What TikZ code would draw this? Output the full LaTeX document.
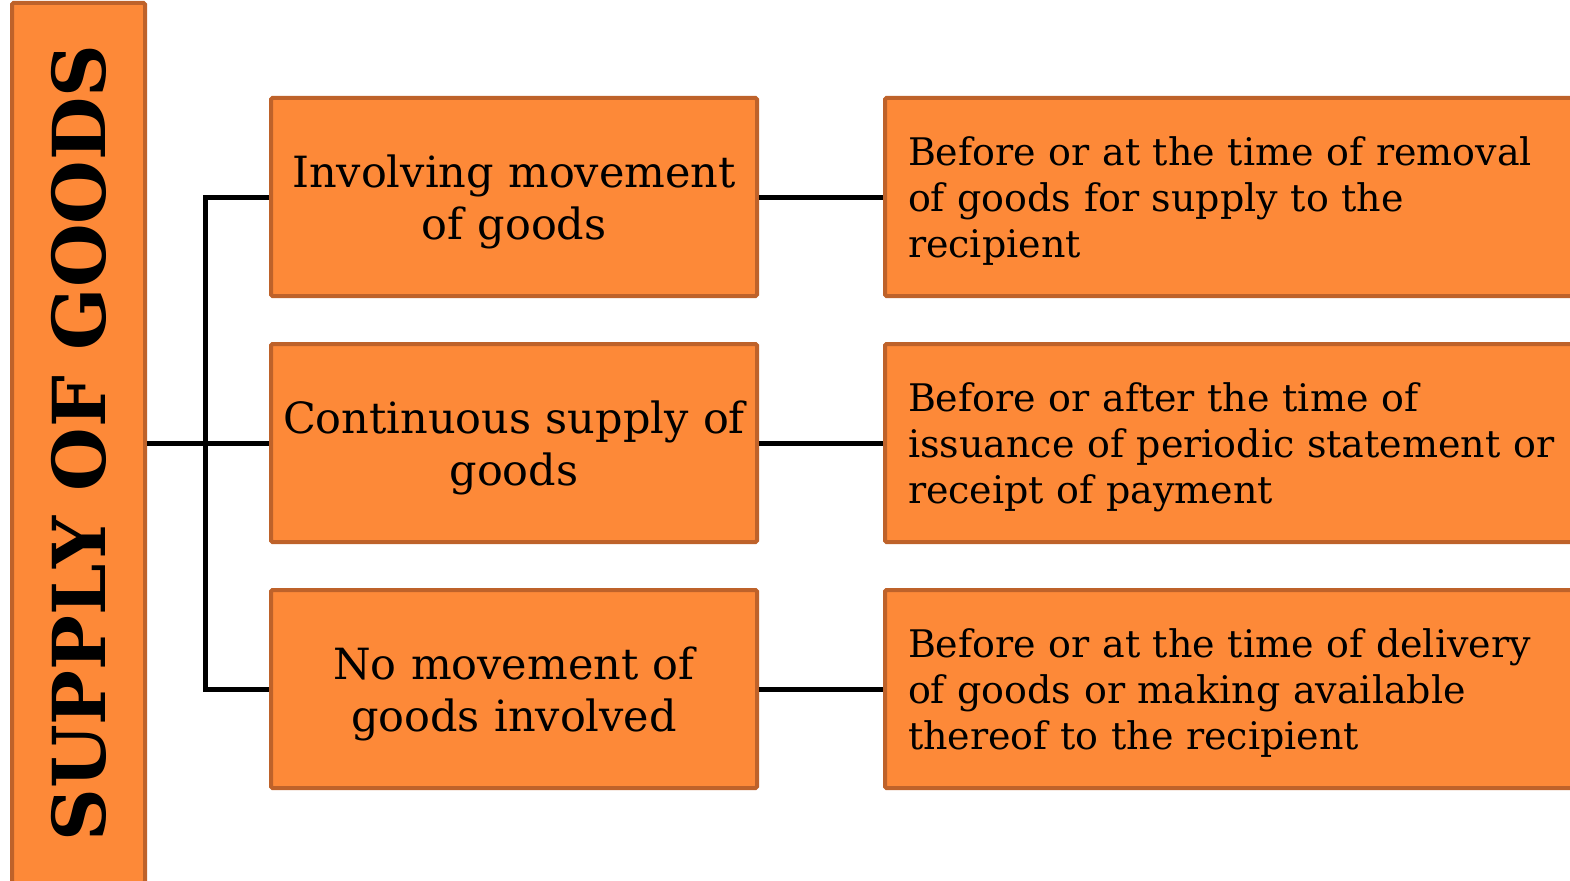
\documentclass[tikz,border=0pt]{standalone}
\usepackage{fontspec}
\setmainfont{DejaVu Serif}
\definecolor{boxfill}{RGB}{253,137,56}
\definecolor{boxline}{RGB}{190,98,42}
\tikzset{
  box/.style={draw=boxline, fill=boxfill, line width=4pt, rounded corners=1.5pt,
    inner sep=0pt, text=black},
  titlebox/.style={box, rotate=90, minimum width=880pt, minimum height=133pt,
    font=\fontsize{73}{80}\selectfont\bfseries},
  midbox/.style={box, minimum height=198pt, text width=486pt, align=center,
    font=\fontsize{43}{52}\selectfont, execute at begin node={\rule{0pt}{43pt}}},
  farbox/.style={box, minimum height=198pt, text width=649pt, inner xsep=23pt,
    align=left, font=\fontsize{38}{46}\selectfont, execute at begin node={\rule{0pt}{37pt}}},
  conn/.style={line width=5pt, black}
}
\begin{document}
\begin{tikzpicture}[x=1pt, y=-1pt]
  \useasboundingbox (0,0) rectangle (1570,880);
  \clip (0,0) rectangle (1570,880);
  % left title bar
  \node[titlebox] (title) at (78.5,443) {SUPPLY OF GOODS};
  % middle column
  \node[midbox] (mid1) at (514,197) {Involving movement\\of goods};
  \node[midbox] (mid2) at (514,443) {Continuous supply of\\goods};
  \node[midbox] (mid3) at (514,689) {No movement of\\goods involved};
  % right column
  \node[farbox] (far1) at (1232.5,197) {Before or at the time of removal\\of goods for supply to the\\recipient};
  \node[farbox] (far2) at (1232.5,443) {Before or after the time of\\issuance of periodic statement or\\receipt of payment};
  \node[farbox] (far3) at (1232.5,689) {Before or at the time of delivery\\of goods or making available\\thereof to the recipient};
  % connectors
  \draw[conn] (title.south) -- (mid2.west);
  \draw[conn] (mid1.west) -- ++(-64,0) |- (mid3.west);
  \draw[conn] (mid1.east) -- (far1.west);
  \draw[conn] (mid2.east) -- (far2.west);
  \draw[conn] (mid3.east) -- (far3.west);
\end{tikzpicture}
\end{document}
